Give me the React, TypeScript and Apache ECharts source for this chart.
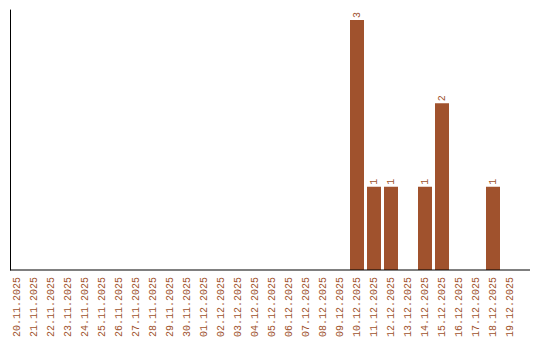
import React, { useEffect, useRef } from "react";
import * as echarts from "echarts";

const categories = [
  "20.11.2025", "21.11.2025", "22.11.2025", "23.11.2025", "24.11.2025",
  "25.11.2025", "26.11.2025", "27.11.2025", "28.11.2025", "29.11.2025",
  "30.11.2025", "01.12.2025", "02.12.2025", "03.12.2025", "04.12.2025",
  "05.12.2025", "06.12.2025", "07.12.2025", "08.12.2025", "09.12.2025",
  "10.12.2025", "11.12.2025", "12.12.2025", "13.12.2025", "14.12.2025",
  "15.12.2025", "16.12.2025", "17.12.2025", "18.12.2025", "19.12.2025",
];
const counts = [
  0, 0, 0, 0, 0, 0, 0, 0, 0, 0,
  0, 0, 0, 0, 0, 0, 0, 0, 0, 0,
  3, 1, 1, 0, 1, 2, 0, 0, 1, 0,
];

const COLOR = "#a0522d";
const FONT = "'Liberation Mono', 'DejaVu Sans Mono', monospace";

export default function App() {
  const ref = useRef<HTMLDivElement>(null);
  useEffect(() => {
    if (!ref.current) return;
    document.body.style.margin = "0";
    const chart = echarts.init(ref.current, null, { renderer: "svg" });
    chart.setOption({
      animation: false,
      grid: {
        left: 8.5,
        right: 21.5,
        top: 10,
        bottom: 70,
        containLabel: false,
        outerBoundsMode: "none",
      },
      xAxis: {
        type: "category",
        data: categories,
        axisLine: { show: false },
        axisTick: { show: false },
        axisLabel: {
          rotate: 90,
          interval: 0,
          color: COLOR,
          fontFamily: FONT,
          fontSize: 10,
          margin: 7,
          overflow: "none",
          hideOverlap: false,
        },
        splitLine: { show: false },
      },
      yAxis: {
        type: "value",
        min: 0,
        max: 3.12,
        offset: -1.5,
        axisLine: { show: true, lineStyle: { color: "#000", width: 1 } },
        axisTick: { show: false },
        axisLabel: { show: false },
        splitLine: { show: false },
      },
      graphic: [
        {
          type: "line",
          shape: { x1: 10, y1: 270, x2: 530, y2: 270 },
          style: { stroke: "#000", lineWidth: 1 },
          z: 10,
        },
      ],
      series: [
        {
          type: "bar",
          data: counts.map((v) => (v === 0 ? null : v)),
          barWidth: 14,
          itemStyle: { color: COLOR },
          label: {
            show: true,
            position: "top",
            rotate: 90,
            align: "left",
            verticalAlign: "middle",
            distance: 2,
            color: COLOR,
            fontFamily: FONT,
            fontSize: 10,
          },
        },
      ],
    });
    return () => chart.dispose();
  }, []);
  return (
    <div
      ref={ref}
      style={{ position: "absolute", left: 0, top: 0, width: 540, height: 340 }}
    />
  );
}
